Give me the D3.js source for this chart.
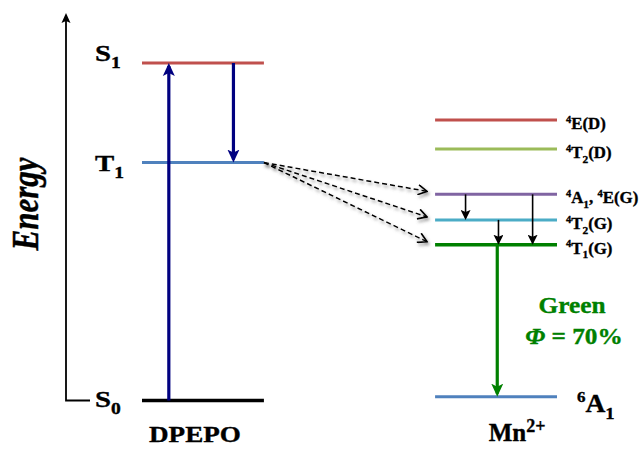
<!DOCTYPE html>
<html>
<head>
<meta charset="utf-8">
<script src="https://cdn.jsdelivr.net/npm/d3@7.9.0/dist/d3.min.js"></script>
<style>
  body { margin: 0; background: #fff; }
  svg { display: block; font-family: "Liberation Serif", "Times New Roman", serif; font-weight: bold; }
</style>
</head>
<body>
<svg id="chart" width="644" height="449"></svg>
<script>
// columns of the diagram
const columns = ["DPEPO", "Mn"];

// DPEPO host states (energy in arbitrary units)
const hostStates = ["S1", "T1", "S0"];
const hostEnergy = [87.1, 61.4, 0];
const hostColors = ["#c0504d", "#4f81bd", "#000000"];

// Mn2+ states
const mnStates = ["4E(D)", "4T2(D)", "4A1, 4E(G)", "4T2(G)", "4T1(G)", "6A1"];
const mnEnergy = [72.4, 64.9, 53.2, 46.6, 40.2, 1.0];
const mnColors = ["#c0504d", "#9bbb59", "#8064a2", "#4bacc6", "#008000", "#4f81bd"];

// rich labels: [text, "sup" | "sub" | ""]
const hostLabels = {
  S1: [["S", ""], ["1", "sub"]],
  T1: [["T", ""], ["1", "sub"]],
  S0: [["S", ""], ["0", "sub"]]
};
const mnLabels = {
  "4E(D)": [["4", "sup"], ["E(D)", ""]],
  "4T2(D)": [["4", "sup"], ["T", ""], ["2", "sub"], ["(D)", ""]],
  "4A1, 4E(G)": [["4", "sup"], ["A", ""], ["1", "sub"], [", ", ""], ["4", "sup"], ["E(G)", ""]],
  "4T2(G)": [["4", "sup"], ["T", ""], ["2", "sub"], ["(G)", ""]],
  "4T1(G)": [["4", "sup"], ["T", ""], ["1", "sub"], ["(G)", ""]],
  "6A1": [["6", "sup"], ["A", ""], ["1", "sub"]]
};

// transitions: from, to, position across the level (0..1)
const hostArrows = [
  { from: "S0", to: "S1", pos: 0.22 },
  { from: "S1", to: "T1", pos: 0.75 }
];
const mnRelax = [
  { from: "4A1, 4E(G)", to: "4T2(G)", pos: 0.25 },
  { from: "4T2(G)", to: "4T1(G)", pos: 0.52 },
  { from: "4A1, 4E(G)", to: "4T1(G)", pos: 0.80 }
];
const emission = { from: "4T1(G)", to: "6A1", pos: 0.51 };
const transferTargets = ["4A1, 4E(G)", "4T2(G)", "4T1(G)"];

const svg = d3.select("#chart");

const y = d3.scaleLinear().domain([0, 100]).range([400.5, 13]);
const x = d3.scaleBand().domain(columns).range([142, 557]).paddingInner(0.584).paddingOuter(0);
const bw = x.bandwidth();

const hostY = new Map(hostStates.map((s, i) => [s, y(hostEnergy[i])]));
const mnY = new Map(mnStates.map((s, i) => [s, y(mnEnergy[i])]));

// defs: markers and shadow
const defs = svg.append("defs");
function marker(id, color, path, w, ref, filled) {
  defs.append("marker")
    .attr("id", id)
    .attr("viewBox", `0 ${-w / 2} ${w} ${w}`)
    .attr("refX", ref)
    .attr("refY", 0)
    .attr("markerWidth", w)
    .attr("markerHeight", w)
    .attr("markerUnits", "userSpaceOnUse")
    .attr("orient", "auto")
    .append("path")
    .attr("d", path)
    .attr("fill", filled ? color : "none")
    .attr("stroke", filled ? "none" : color)
    .attr("stroke-width", 1.7);
}
marker("navyHead", "#000080", "M0,-6L13,0L0,6L3,0Z", 13, 10, true);
marker("greenHead", "#008000", "M0,-6L13,0L0,6L3,0Z", 13, 10, true);
marker("blackHead", "#000", "M0,-5L10,0L0,5L2,0Z", 10, 8, true);
marker("axisHead", "#000", "M0,-4.5L10,0L0,4.5L2,0Z", 10, 8, true);
marker("dashHead", "#000", "M1,-5L10,0L1,5", 11, 10, false);

const shadow = defs.append("filter").attr("id", "shadow")
  .attr("x", "-10%").attr("y", "-50%").attr("width", "130%").attr("height", "250%");
shadow.append("feDropShadow")
  .attr("dx", 1.5).attr("dy", 2.5).attr("stdDeviation", 1.5)
  .attr("flood-color", "#666").attr("flood-opacity", 0.7);

// rich text helper
function richText(g, px, py, segs, size, anchor, sx, color, subShift, supRatio) {
  const t = g.append("text")
    .attr("transform", `translate(${px},${py}) scale(${sx},1)`)
    .attr("text-anchor", anchor)
    .attr("fill", color || "#000")
    .attr("stroke", color || "#000")
    .attr("stroke-width", 0.35)
    .style("font-size", size + "px");
  let shift = 0;
  segs.forEach(([txt, kind]) => {
    let target = 0;
    let fs = size;
    if (kind === "sup") { target = -size * 0.38; fs = size * (supRatio || 0.62); }
    if (kind === "sub") { target = size * (subShift || 0.28); fs = size * 0.68; }
    t.append("tspan")
      .attr("dy", target - shift)
      .style("font-size", fs + "px")
      .text(txt);
    shift = target;
  });
  return t;
}

// energy axis
svg.append("path")
  .attr("d", `M90,${y(0)} H66 V${y(100) + 2}`)
  .attr("fill", "none")
  .attr("stroke", "#000")
  .attr("stroke-width", 1.8)
  .attr("marker-end", "url(#axisHead)");

svg.append("text")
  .attr("transform", `translate(38,204) scale(1.2,1) rotate(-90)`)
  .attr("text-anchor", "middle")
  .attr("stroke", "#000")
  .attr("stroke-width", 0.4)
  .style("font-size", "31px")
  .style("font-style", "italic")
  .text("Energy");

// host levels
const x0 = x("DPEPO");
svg.selectAll("line.host")
  .data(hostStates)
  .join("line")
  .attr("class", "host")
  .attr("x1", x0)
  .attr("x2", x0 + bw)
  .attr("y1", d => hostY.get(d))
  .attr("y2", d => hostY.get(d))
  .attr("stroke", (d, i) => hostColors[i])
  .attr("stroke-width", (d, i) => (i === 2 ? 3.5 : 3));

const hostLabelDy = { S1: -2, T1: 8.5, S0: 6.5 };
hostStates.forEach(s => {
  richText(svg, 95, hostY.get(s) + hostLabelDy[s], hostLabels[s], 24, "start", 1.2, "#000", 0.28);
});

// host arrows
svg.selectAll("line.hostArrow")
  .data(hostArrows)
  .join("line")
  .attr("class", "hostArrow")
  .attr("x1", d => x0 + d.pos * bw)
  .attr("x2", d => x0 + d.pos * bw)
  .attr("y1", d => hostY.get(d.from))
  .attr("y2", d => hostY.get(d.to) + (hostY.get(d.to) < hostY.get(d.from) ? 3 : -3))
  .attr("stroke", "#000080")
  .attr("stroke-width", 3.2)
  .attr("marker-end", "url(#navyHead)");

// Mn levels
const x1 = x("Mn");
svg.selectAll("line.mn")
  .data(mnStates)
  .join("line")
  .attr("class", "mn")
  .attr("x1", x1)
  .attr("x2", x1 + bw)
  .attr("y1", d => mnY.get(d))
  .attr("y2", d => mnY.get(d))
  .attr("stroke", (d, i) => mnColors[i])
  .attr("stroke-width", (d, i) => (i === 4 ? 3.5 : 3));

mnStates.forEach(s => {
  if (s === "6A1") {
    richText(svg, x1 + bw + 20, mnY.get(s) + 15, mnLabels[s], 25, "start", 1.1);
  } else {
    richText(svg, x1 + bw + 9, mnY.get(s) + 9, mnLabels[s], 16.5, "start", 1.02);
  }
});

// relaxation arrows inside Mn2+
svg.selectAll("line.relax")
  .data(mnRelax)
  .join("line")
  .attr("class", "relax")
  .attr("x1", d => x1 + d.pos * bw)
  .attr("x2", d => x1 + d.pos * bw)
  .attr("y1", d => mnY.get(d.from))
  .attr("y2", d => mnY.get(d.to) - 2)
  .attr("stroke", "#000")
  .attr("stroke-width", 1.6)
  .attr("marker-end", "url(#blackHead)");

// emission
svg.append("line")
  .attr("x1", x1 + emission.pos * bw)
  .attr("x2", x1 + emission.pos * bw)
  .attr("y1", mnY.get(emission.from))
  .attr("y2", mnY.get(emission.to) - 3)
  .attr("stroke", "#008000")
  .attr("stroke-width", 3.2)
  .attr("marker-end", "url(#greenHead)");

richText(svg, 572, 313, [["Green", ""]], 23, "middle", 1.1, "#008000");
const phi = svg.append("text")
  .attr("transform", `translate(574,344) scale(1.1,1)`)
  .attr("text-anchor", "middle")
  .attr("fill", "#008000")
  .attr("stroke", "#008000")
  .attr("stroke-width", 0.35)
  .style("font-size", "23px");
phi.append("tspan").style("font-style", "italic").text("Φ");
phi.append("tspan").text(" = 70%");

// energy transfer (dashed)
svg.selectAll("line.transfer")
  .data(transferTargets)
  .join("line")
  .attr("class", "transfer")
  .attr("x1", x0 + bw)
  .attr("y1", hostY.get("T1"))
  .attr("x2", x1 - 8)
  .attr("y2", d => mnY.get(d) - 3)
  .attr("stroke", "#000")
  .attr("stroke-width", 1.5)
  .attr("stroke-dasharray", "5,3")
  .attr("filter", "url(#shadow)")
  .attr("marker-end", "url(#dashHead)");

// column titles
richText(svg, x0 + bw / 2 - 8, 442, [["DPEPO", ""]], 24, "middle", 1.13);
richText(svg, x1 + bw / 2 + 21, 441, [["Mn", ""], ["2+", "sup"]], 25, "middle", 1.0, "#000", 0, 0.72);
</script>
</body>
</html>
